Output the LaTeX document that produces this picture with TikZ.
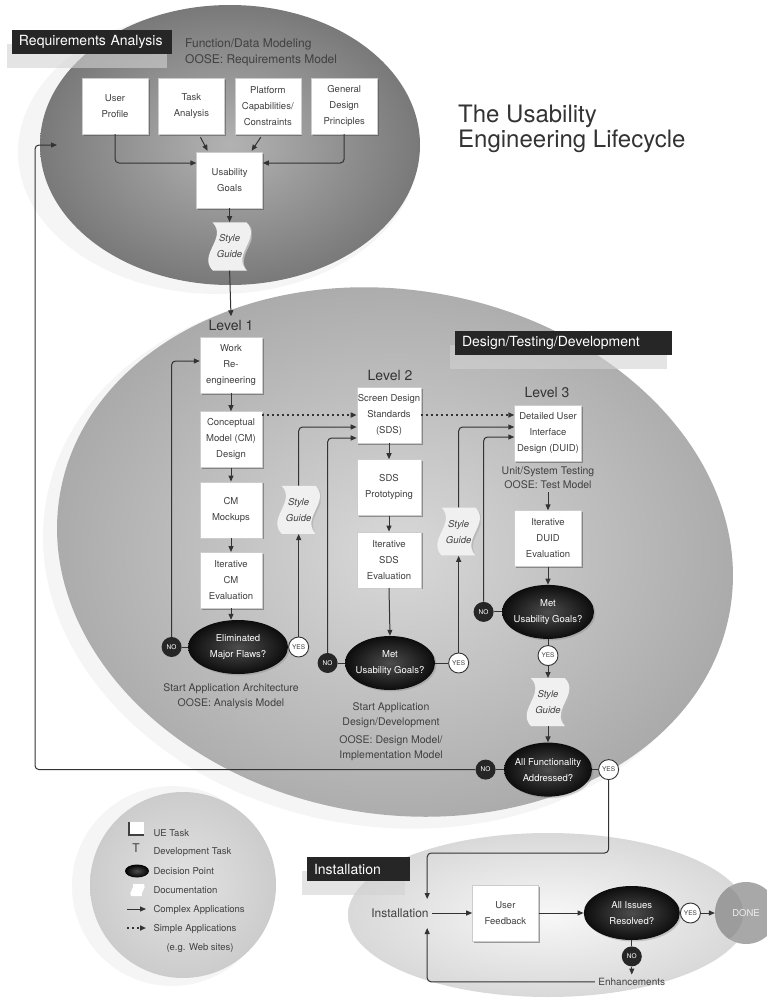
\documentclass[tikz,border=0pt]{standalone}
\usepackage{fontspec}
\setmainfont{TeX Gyre Heros}
\usetikzlibrary{positioning, shapes, arrows.meta, shadows, calc}

\newcommand{\fsz}[2]{\fontsize{#1}{#2}\selectfont}
% wavy documentation sheet, drawn inside the node box (x shift, down shift)
\newcommand{\wavedoc}[3]{%
  \fill[#1]
    ([shift={(5pt+#2,-#3)}]path picture bounding box.north west)
    -- ([shift={(-5pt+#2,-#3)}]path picture bounding box.north east)
    .. controls ([shift={(10pt+#2,-16pt-#3)}]path picture bounding box.north east)
       and ([shift={(-20pt+#2,16pt-#3)}]path picture bounding box.south east)
    .. ([shift={(-5pt+#2,-#3)}]path picture bounding box.south east)
    -- ([shift={(5pt+#2,-#3)}]path picture bounding box.south west)
    .. controls ([shift={(-10pt+#2,16pt-#3)}]path picture bounding box.south west)
       and ([shift={(20pt+#2,-16pt-#3)}]path picture bounding box.north west)
    .. ([shift={(5pt+#2,-#3)}]path picture bounding box.north west) -- cycle;}

\begin{document}
\begin{tikzpicture}[
    x=1pt, y=-1pt,
    task/.style={rectangle, fill=white, draw=gray!40, text=black!75, align=center,
        minimum width=64pt, minimum height=56pt, inner sep=1pt, font=\fsz{9.5}{16},
        drop shadow={shadow xshift=1.5pt, shadow yshift=-1.5pt, fill=black!70, opacity=.5}},
    guide/.style={rectangle, minimum width=44pt, minimum height=48pt, inner sep=0pt,
        align=center, text=black!75, font=\fsz{9.5}{16}\itshape,
        path picture={\wavedoc{gray!55}{1.5pt}{1.5pt}\wavedoc{gray!12}{0pt}{0pt}}},
    decision/.style={ellipse, shade, inner color=gray!60!black, outer color=black!95,
        text=white, align=center, font=\fsz{9.5}{16}, inner xsep=-3pt, inner ysep=0pt,
        minimum width=90pt, minimum height=54pt,
        drop shadow={shadow xshift=1.5pt, shadow yshift=-1.5pt, opacity=.35}},
    yesbub/.style={circle, draw=black!80, fill=white, line width=.9pt, text=black!75,
        inner sep=0pt, minimum size=20pt, font=\fsz{6.5}{7}},
    nobub/.style={circle, fill=black!85, text=white, inner sep=0pt, minimum size=20pt,
        font=\fsz{6.5}{7}},
    donecirc/.style={circle, fill=gray!68, text=gray!15, minimum size=62pt, font=\fsz{9.5}{11},
        path picture={\fill[gray!78] ([xshift=-34pt]path picture bounding box.center) circle (31pt);}},
    phase/.style={fill=black!85, text=white, align=left, inner xsep=7pt, minimum height=24pt,
        font=\fsz{14}{16},
        drop shadow={shadow xshift=-5pt, shadow yshift=-14pt, fill=gray!35, opacity=.6}},
    lvltext/.style={font=\fsz{14}{16}, text=black!80},
    note/.style={font=\fsz{10.5}{15}, text=black!75, align=center},
    legtext/.style={font=\fsz{9.5}{11}, text=black!75, anchor=west},
    conn/.style={draw=black!80, line width=1pt},
    arrow/.style={conn, -{Triangle[length=6pt, width=5pt]}},
    dotarrow/.style={arrow, line width=1.5pt, dash pattern=on 1.5pt off 3.5pt}
]

% Background
\fill[white] (0,0) rectangle (767,999);
\useasboundingbox (0,0) rectangle (767,999);
\fill[gray!8] (218,152) ellipse [x radius=200, y radius=142];
\shade[inner color=gray!60, outer color=gray!95!black] (230,145) ellipse [x radius=190, y radius=140];
\fill[gray!8, rotate around={-10:(383,560)}] (383,560) ellipse [x radius=342, y radius=266];
\shade[inner color=gray!30, outer color=gray!68, rotate around={-10:(395,552)}]
    (395,552) ellipse [x radius=340, y radius=262];
\fill[gray!8] (172,886) circle (100);
\shade[inner color=gray!22, outer color=gray!40] (183,885) circle (93);
\shade[inner color=gray!6, outer color=gray!30] (548,915) ellipse [x radius=200, y radius=82];

% Labels
\node[anchor=north west, inner sep=0pt, align=left, font=\fsz{24}{25}, text=black!80]
    (title) at (458,105) {The Usability\\Engineering Lifecycle};
\node[phase, text width=146pt] (req) at (92,41.5) {Requirements Analysis};
\node[anchor=north west, inner sep=0pt, align=left, font=\fsz{12}{16}, text=black!75]
    (funcmod) at (185,39) {Function/Data Modeling\\OOSE: Requirements Model};
\node[phase, text width=203pt] (dsgn) at (563.5,342.5) {Design/Testing/Development};
\node[phase, text width=89pt] (instlbl) at (358.5,869) {Installation};

% Requirements analysis
\node[task, minimum width=66pt] (user) at (115,106) {User\\Profile};
\node[task, minimum width=66pt, right=10pt of user] (taskan) {Task\\Analysis};
\node[task, minimum width=66pt, right=10pt of taskan] (plat) {Platform\\Capabilities/\\Constraints};
\node[task, minimum width=66pt, right=10pt of plat] (general) {General\\Design\\Principles};
\node[task, minimum width=66pt] (goals) at ($(taskan)!0.5!(plat)+(0,74)$) {Usability\\Goals};
\node[guide, below=14pt of goals] (sg0) {Style\\Guide};

% Level 1
\node[lvltext] (lvl1) at (231,325) {Level 1};
\node[task, minimum width=62pt] (work) at (231,365) {Work\\Re-\\engineering};
\node[task, minimum width=62pt, below=18pt of work] (cm) {Conceptual\\Model (CM)\\Design};
\node[task, minimum width=62pt, below=14pt of cm] (mock) {CM\\Mockups};
\node[task, minimum width=62pt, below=14pt of mock] (itercm) {Iterative\\CM\\Evaluation};
\node[decision, minimum width=100pt] (elim) at (238,647) {Eliminated\\Major Flaws?};
\node[nobub, left=6pt of elim] (no1) {NO};
\node[yesbub, right=0pt of elim] (yes1) {YES};
\node[guide] (sg1) at (yes1 |- mock) {Style\\Guide};
\node[note] (note1) at (231,696) {Start Application Architecture\\OOSE: Analysis Model};

% Level 2
\node[lvltext] (lvl2) at (390,375) {Level 2};
\node[task] (sds) at (389,415) {Screen Design\\Standards\\(SDS)};
\node[task, below=16pt of sds] (proto) {SDS\\Prototyping};
\node[task, below=16pt of proto] (itersds) {Iterative\\SDS\\Evaluation};
\node[decision] (met2) at (390,663) {Met\\Usability Goals?};
\node[nobub, left=7pt of met2] (no2) {NO};
\node[yesbub, right=13pt of met2] (yes2) {YES};
\node[guide] (sg2) at (yes2 |- itersds.north) {Style\\Guide};
\node[note] (note2a) at (391,715) {Start Application\\Design/Development};
\node[note, below=1pt of note2a] (note2b) {OOSE: Design Model/\\Implementation Model};

% Level 3
\node[lvltext] (lvl3) at (547,392) {Level 3};
\node[task, minimum width=67pt] (duid) at (548,433) {Detailed User\\Interface\\Design (DUID)};
\node[note, font=\fsz{10.5}{14}, below=2pt of duid] (note3) {Unit/System Testing\\OOSE: Test Model};
\node[task, minimum width=67pt, below=18pt of note3] (iterduid) {Iterative\\DUID\\Evaluation};
\node[decision, minimum width=92pt, below=18pt of iterduid] (met3) {Met\\Usability Goals?};
\node[nobub, left=8pt of met3] (no3) {NO};
\node[yesbub, below=6pt of met3] (yes3) {YES};
\node[guide, below=12pt of yes3] (sg3) {Style\\Guide};
\node[decision, minimum width=88pt, below=16pt of sg3] (allfunc) {All Functionality\\Addressed?};
\node[nobub, left=8pt of allfunc] (no4) {NO};
\node[yesbub, right=6pt of allfunc] (yes4) {YES};
\coordinate (reqin) at (57,145);

% Installation
\node[font=\fsz{12}{14}, text=black!75] (inst) at (400,913) {Installation};
\node[task, minimum width=66pt, right=40pt of inst] (fb) {User\\Feedback};
\node[decision, minimum width=96pt, right=45pt of fb] (issues) {All Issues\\Resolved?};
\node[yesbub, right=0pt of issues] (yes5) {YES};
\node[donecirc, right=14pt of yes5] (done) {DONE};
\node[nobub, below=6pt of issues] (no5) {NO};
\node[note, font=\fsz{10}{12}, below=8pt of no5] (enh) {Enhancements};

% Legend
\fill[white] (129,822) rectangle (144,835);
\draw[gray!50!black, line width=1.5pt] (129,822) -- (129,835) -- (144,835);
\node[legtext] (lgue) at (150,833) {UE Task};
\node[font=\fsz{12}{12}, text=black!75] (lgt) at (136,848) {T};
\node[legtext] (lgdev) at (150,852) {Development Task};
\shade[inner color=gray!60!black, outer color=black] (137,871) ellipse [x radius=12, y radius=6.5];
\node[legtext] (lgdec) at (150,871) {Decision Point};
\fill[white] (133,884) -- (144,884) .. controls (147,888) and (140,892) .. (142,896)
    -- (131,896) .. controls (128,892) and (135,888) .. (133,884) -- cycle;
\node[legtext] (lgdoc) at (150,890) {Documentation};
\coordinate (lgc1) at (127,909);
\coordinate (lgc2) at (146,909);
\draw[arrow] (lgc1) -- (lgc2);
\node[legtext] (lgcx) at (150,910) {Complex Applications};
\coordinate (lgs1) at (127,928);
\coordinate (lgs2) at (146,928);
\draw[dotarrow] (lgs1) -- (lgs2);
\node[legtext] (lgsm) at (150,929) {Simple Applications};
\node[legtext] (lgweb) at (163,948) {(e.g. Web sites)};

% Connections: requirements
\draw[arrow, rounded corners=4pt] (user.south) |- ([yshift=17pt]goals.west);
\draw[arrow] ([xshift=9pt,yshift=-3pt]taskan.south) -- ([xshift=-22pt,yshift=1pt]goals.north);
\draw[arrow] ([xshift=-7pt,yshift=-3pt]plat.south) -- ([xshift=22pt,yshift=1pt]goals.north);
\draw[arrow, rounded corners=4pt] (general.south) |- ([yshift=17pt]goals.east);
\draw[arrow] (goals.south) -- (sg0.north);
\draw[arrow] (sg0.south) -- (lvl1.north);

% Connections: level 1
\draw[arrow] (work.south) -- (cm.north);
\draw[arrow] (cm.south) -- (mock.north);
\draw[arrow] (mock.south) -- (itercm.north);
\draw[arrow] (itercm.south) -- (itercm.south |- elim.north);
\draw[conn] (no1.east) -- (elim.west);
\draw[arrow, rounded corners=4pt] (no1.north) |- ([yshift=4pt]work.west);
\draw[arrow] (yes1.north) -- (sg1.south);
\draw[arrow, rounded corners=4pt] (sg1.north) |- ([yshift=-12pt]sds.west);
\draw[dotarrow] (cm.east |- sds.west) -- (sds.west);

% Connections: level 2
\draw[arrow] (sds.south) -- (proto.north);
\draw[arrow] (proto.south) -- (itersds.north);
\draw[arrow] (itersds.south) -- (met2.north);
\draw[conn] (no2.east) -- (met2.west);
\draw[conn] (met2.east) -- (yes2.west);
\draw[arrow, rounded corners=4pt] (no2.north) |- ([yshift=-23pt]sds.west);
\draw[arrow] (yes2.north) -- (sg2.south);
\draw[arrow, rounded corners=4pt] (sg2.north) |- ([yshift=6pt]duid.west);
\draw[dotarrow] (sds.east) -- (sds.east -| duid.west);

% Connections: level 3
\draw[arrow] (note3.south) -- (iterduid.north);
\draw[arrow] (iterduid.south) -- (met3.north);
\draw[conn] (no3.east) -- (met3.west);
\draw[arrow, rounded corners=4pt] (no3.north) |- ([yshift=-4pt]duid.west);
\draw[conn] (met3.south) -- (yes3.north);
\draw[arrow] (yes3.south) -- (sg3.north);
\draw[arrow] (sg3.south) -- (allfunc.north);
\draw[conn] (no4.east) -- (allfunc.west);
\draw[conn] (allfunc.east) -- (yes4.west);
\draw[arrow, rounded corners=4pt] (no4.west) -| ([xshift=-22pt]reqin) -- (reqin);

% Connections: installation
\draw[arrow, rounded corners=4pt] (yes4.south) |- ([xshift=-5pt,yshift=52pt]inst.north east)
    -- ([xshift=-5pt,yshift=6pt]inst.north east);
\draw[arrow] (inst.east) -- (fb.west);
\draw[arrow] (fb.east) -- (issues.west);
\draw[arrow] (yes5.east) -- (done.west);
\draw[conn] (issues.south) -- (no5.north);
\draw[arrow] (no5.south) -- (enh.north);
\draw[arrow, rounded corners=4pt] (enh.west) -| ([xshift=-5pt,yshift=-7pt]inst.south east);

\end{tikzpicture}
\end{document}
